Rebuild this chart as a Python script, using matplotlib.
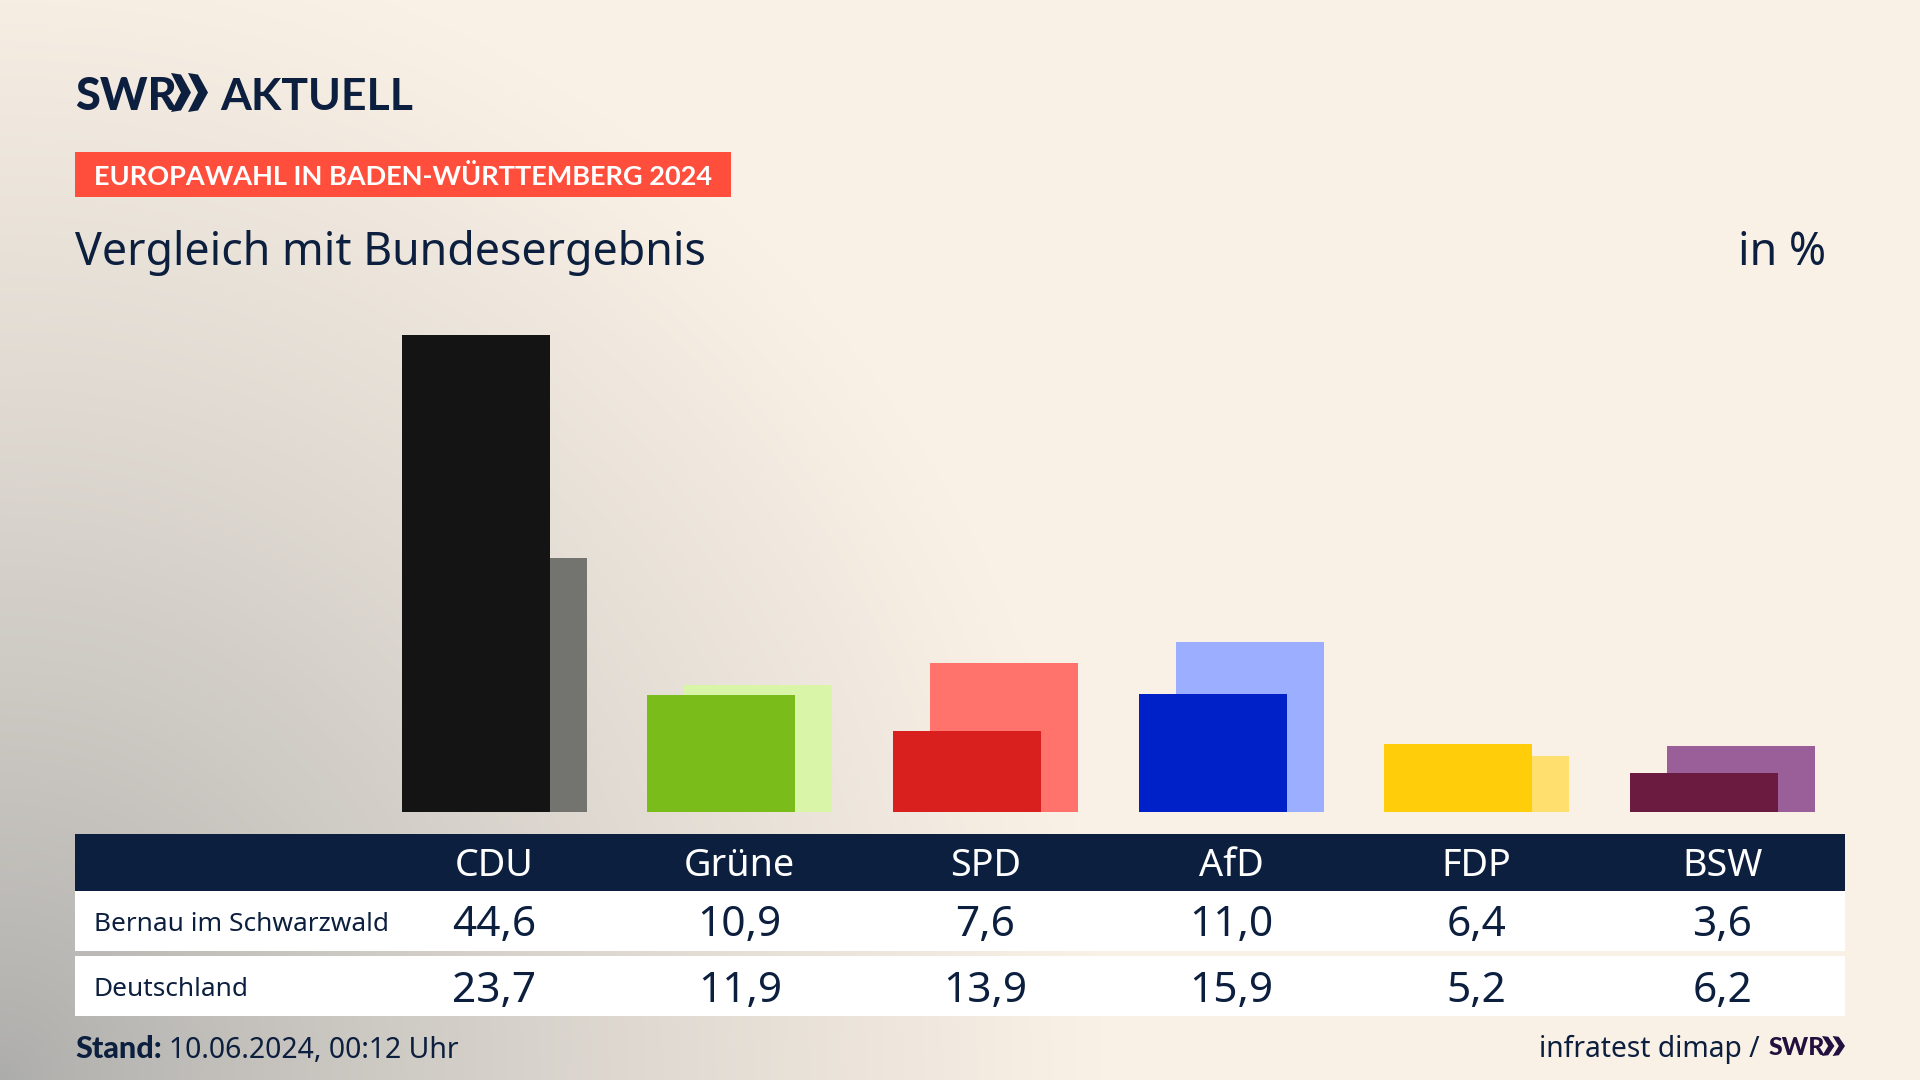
import numpy as np
import matplotlib
matplotlib.use("Agg")
import matplotlib.pyplot as plt
from matplotlib.patches import Rectangle, Polygon
from matplotlib.transforms import blended_transform_factory

parties = ["CDU", "Grüne", "SPD", "AfD", "FDP", "BSW"]
bernau = [44.6, 10.9, 7.6, 11.0, 6.4, 3.6]
deutschland = [23.7, 11.9, 13.9, 15.9, 5.2, 6.2]
front_colors = ["#141414", "#7ABD1A", "#D9201E", "#0020C8", "#FFCD0A", "#6B1A40"]
back_colors = ["#73736F", "#D8F5A8", "#FF736C", "#9CAEFF", "#FFE06E", "#9A5E98"]
row_labels = ["Bernau im Schwarzwald", "Deutschland"]

NAVY = "#0C1F3E"
RED = "#FF4F3C"
CREAM = np.array([250, 241, 230]) / 255
GREY = np.array([172, 172, 170]) / 255
FONT = "Noto Sans"

W, H = 1920, 1080
fig = plt.figure(figsize=(W / 100, H / 100), dpi=100)

# background gradient
bg = fig.add_axes([0, 0, 1, 1], zorder=0)
bg.set_axis_off()
yy, xx = np.mgrid[0:H:270j, 0:W:480j]
d = np.sqrt((xx / 1100) ** 2 + ((H - yy) / 1150) ** 2)
t = np.clip(d, 0, 1)[..., None] ** 0.8
bg.imshow(GREY * (1 - t) + CREAM * t, extent=(0, W, H, 0), aspect="auto", interpolation="bilinear")

# overlay in pixel coordinates
ov = fig.add_axes([0, 0, 1, 1], zorder=1)
ov.set_xlim(0, W)
ov.set_ylim(H, 0)
ov.set_axis_off()
ov.patch.set_alpha(0)

# bars
y0, y1 = 812, 300
ax = fig.add_axes([75 / W, 1 - y0 / H, 1770 / W, (y0 - y1) / H], zorder=2)
ax.patch.set_alpha(0)
ax.set_axis_off()
step = 245.6
cx0 = 494.2
ax.set_xlim((75 - cx0) / step, (1845 - cx0) / step)
ax.set_ylim(0, (y0 - y1) / 10.70)
x = np.arange(len(parties))
bw, off = 148 / step, 18.5 / step
ax.bar(x + off, deutschland, bw, color=back_colors, linewidth=0)
ax.bar(x - off, bernau, bw, color=front_colors, linewidth=0)

# logo
def chevrons(x0, x1, top, bot, color=NAVY):
    w = (x1 - x0) * 0.54
    h = bot - top
    m = (top + bot) / 2
    for a in (x0, x1 - w):
        ov.add_patch(Polygon([(a, top), (a + w * .5, top + h * .04), (a + w, m),
                              (a + w * .5, bot - h * .04), (a, bot), (a + w * .5, m)],
                             closed=True, fc=color, ec="none"))
ov.text(75, 110, "SWR", color=NAVY, fontsize=32.5, fontweight="black", family="Lato", va="baseline")
chevrons(171, 208, 73, 112)
ov.text(220, 110, "AKTUELL", color=NAVY, fontsize=32, fontweight="bold", family="Lato", va="baseline")

# kicker
ov.add_patch(Rectangle((75, 152), 656, 45, fc=RED, ec="none"))
ov.text(94, 185, "EUROPAWAHL IN BADEN-WÜRTTEMBERG 2024", color="white", fontsize=19.5,
        fontweight="bold", family="Lato", va="baseline")

# title
ov.text(75, 265, "Vergleich mit Bundesergebnis", color=NAVY, fontsize=32.2, family=FONT, va="baseline")
ov.text(1826, 265, "in %", color=NAVY, fontsize=32.2, family=FONT, va="baseline", ha="right")

# table
ov.add_patch(Rectangle((75, 834), 1770, 57, fc=NAVY, ec="none"))
ov.add_patch(Rectangle((75, 891), 1770, 60, fc="white", ec="none"))
ov.add_patch(Rectangle((75, 956), 1770, 60, fc="white", ec="none"))
tr = blended_transform_factory(ax.transData, ov.transData)
for i, p in enumerate(parties):
    ov.text(i, 876, p, transform=tr, color="white", fontsize=27.2, family=FONT, ha="center", va="baseline")
    ov.text(i, 936, f"{bernau[i]:.1f}".replace(".", ","), transform=tr, color=NAVY, fontsize=30.5,
            family=FONT, ha="center", va="baseline")
    ov.text(i, 1002, f"{deutschland[i]:.1f}".replace(".", ","), transform=tr, color=NAVY, fontsize=30.5,
            family=FONT, ha="center", va="baseline")
ov.text(94, 931, row_labels[0], color=NAVY, fontsize=18.9, family=FONT, va="baseline")
ov.text(94, 996, row_labels[1], color=NAVY, fontsize=18.9, family=FONT, va="baseline")

# footer
ov.text(75, 1058, "Stand:", color=NAVY, fontsize=22, fontweight="black", family="Lato", va="baseline")
ov.text(169, 1058, "10.06.2024, 00:12 Uhr", color=NAVY, fontsize=20.4, family=FONT, va="baseline")
ov.text(1760, 1057, "infratest dimap /", color=NAVY, fontsize=20.3, family=FONT, va="baseline", ha="right")
ov.text(1769, 1055, "SWR", color="#24103F", fontsize=18, fontweight="black", family="Lato", va="baseline")
chevrons(1822, 1845, 1036, 1056, "#24103F")

fig.savefig("out.png", dpi=100)
